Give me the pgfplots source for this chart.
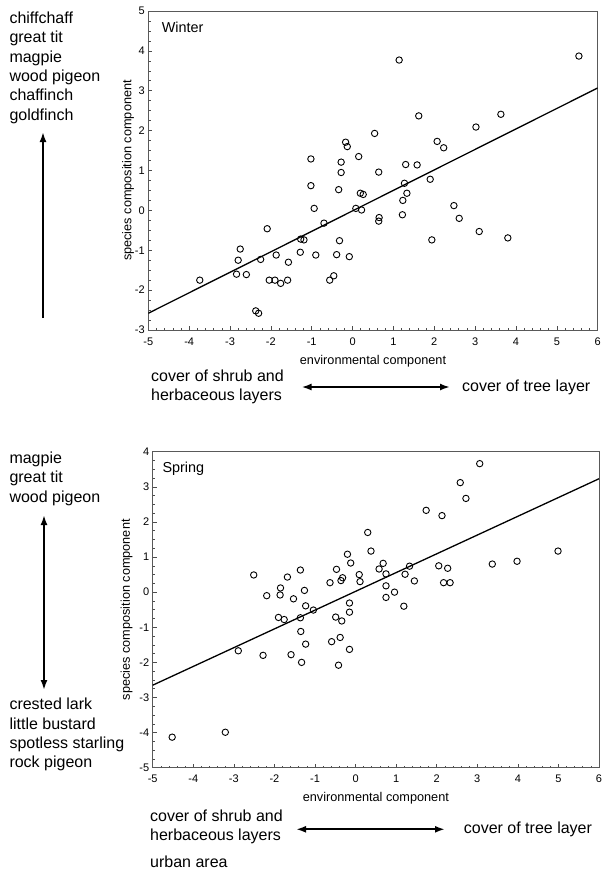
\documentclass[border=0pt]{standalone}
\usepackage{fontspec}
\setmainfont{Liberation Sans}
\usepackage{pgfplots}
\pgfplotsset{compat=1.18}
\usetikzlibrary{arrows.meta}
\pgfplotsset{myax/.style={
  scale only axis, anchor=south west,
  xmin=-5, xmax=6, xtick={-5,-4,...,6},
  minor x tick num=4, minor y tick num=3,
  tick align=inside, xtick pos=bottom, ytick pos=left,
  axis line style={black!65, line width=1pt},
  major tick length=4pt, minor tick length=2.2pt,
  every tick/.style={black!70, line width=0.6pt},
  ticklabel style={font=\fontsize{11}{13}\selectfont},
  xticklabel style={yshift=-4pt},
  /pgf/number format/assume math mode=true,
  xlabel={environmental component},
  ylabel={species composition component},
  label style={font=\fontsize{12.7}{15}\selectfont},
  xlabel style={at={(axis description cs:0.5,0)}, anchor=center, yshift=-31pt},
}}
\newcommand\bigtxt{\fontsize{16}{19}\selectfont}
\tikzset{lt/.style={anchor=west, inner sep=0pt, font=\bigtxt, text height=11.5pt, text depth=3.4pt}}
\begin{document}
\begin{tikzpicture}
\useasboundingbox (0,0) rectangle (609pt,-873pt);
% ---------- Winter ----------
\begin{axis}[myax, at={(148.3pt,-330pt)}, width=449.4pt, height=319pt,
  ymin=-3, ymax=5, ytick={-3,-2,...,5},
  ylabel style={at={(axis description cs:-0.0452,0.5)}, anchor=center, rotate=0}]
\addplot[only marks, mark=o, mark size=3.2pt, mark options={line width=0.9pt, black}] coordinates {
(1.14,3.77)(5.54,3.87)(1.62,2.37)(3.63,2.41)(3.02,2.09)(0.54,1.93)(-0.17,1.71)(-0.13,1.60)
(2.07,1.73)(2.23,1.57)(-1.02,1.29)(-0.28,1.21)(0.15,1.35)(-0.28,0.95)(0.64,0.96)(1.30,1.15)
(1.58,1.14)(-1.02,0.62)(-0.34,0.52)(0.19,0.43)(0.26,0.40)(1.27,0.68)(1.33,0.43)(1.90,0.78)
(1.23,0.25)(-0.94,0.05)(0.08,0.05)(0.22,0.01)(2.48,0.12)(2.61,-0.20)(0.65,-0.18)(0.64,-0.27)
(1.22,-0.11)(-0.70,-0.32)(-2.09,-0.46)(3.10,-0.53)(3.80,-0.69)(1.94,-0.74)(-1.27,-0.72)(-1.19,-0.74)
(-0.32,-0.76)(-2.75,-0.97)(-2.80,-1.25)(-2.25,-1.23)(-1.87,-1.12)(-1.28,-1.05)(-0.90,-1.12)(-0.39,-1.11)
(-0.08,-1.16)(-1.57,-1.30)(-2.84,-1.60)(-2.60,-1.61)(-3.74,-1.75)(-2.04,-1.75)(-1.90,-1.75)(-1.76,-1.83)
(-1.59,-1.75)(-0.46,-1.64)(-0.56,-1.75)(-2.37,-2.52)(-2.30,-2.58)};
\addplot[black, line width=1.3pt] coordinates {(-5,-2.58)(6,3.07)};
\end{axis}
% ---------- Spring ----------
\begin{axis}[myax, at={(152.7pt,-767.7pt)}, width=446.3pt, height=316pt,
  ymin=-5, ymax=4, ytick={-5,-4,...,4},
  ylabel style={at={(axis description cs:-0.0583,0.5)}, anchor=center, rotate=0}]
\addplot[only marks, mark=o, mark size=3.2pt, mark options={line width=0.9pt, black}] coordinates {
(3.06,3.66)(2.58,3.12)(2.72,2.67)(1.74,2.33)(2.13,2.18)(0.30,1.70)(0.38,1.17)(4.99,1.17)
(-0.20,1.08)(-0.12,0.83)(0.68,0.82)(3.37,0.80)(3.98,0.88)(2.05,0.75)(2.27,0.68)(1.33,0.74)
(0.58,0.66)(-0.47,0.65)(-1.36,0.63)(-2.51,0.49)(0.09,0.50)(0.75,0.52)(1.22,0.51)(-1.68,0.43)
(-0.32,0.41)(-0.36,0.33)(0.11,0.30)(-0.63,0.27)(1.45,0.32)(2.17,0.27)(2.33,0.27)(-1.85,0.12)
(0.75,0.18)(-1.26,0.05)(0.96,0.00)(-2.19,-0.10)(-1.86,-0.08)(-1.53,-0.19)(0.75,-0.15)(-1.23,-0.39)
(1.19,-0.40)(-0.15,-0.31)(-1.04,-0.51)(-0.15,-0.57)(-1.90,-0.72)(-1.76,-0.78)(-1.36,-0.73)(-0.49,-0.71)
(-0.34,-0.82)(-1.35,-1.12)(-0.59,-1.41)(-0.38,-1.29)(-1.23,-1.48)(-0.15,-1.63)(-2.89,-1.67)(-2.28,-1.80)
(-1.59,-1.78)(-1.33,-2.00)(-0.42,-2.08)(-4.52,-4.13)(-3.21,-3.99)};
\addplot[black, line width=1.3pt] coordinates {(-5,-2.65)(6,3.23)};
\end{axis}
% ---------- annotations ----------
\node[anchor=west, inner sep=0pt, font=\fontsize{14.4}{17}\selectfont] at (161.7pt,-27.3pt) {Winter};
\node[anchor=west, inner sep=0pt, font=\fontsize{14.4}{17}\selectfont] at (162.3pt,-469pt) {Spring};
\node[lt] at (9.3pt,-19pt) {chiffchaff};
\node[lt] at (9.3pt,-38.5pt) {great tit};
\node[lt] at (9.3pt,-58pt) {magpie};
\node[lt] at (9.3pt,-77.3pt) {wood pigeon};
\node[lt] at (9.3pt,-96.7pt) {chaffinch};
\node[lt] at (9.3pt,-116pt) {goldfinch};
\draw[line width=2pt, -{Latex[length=10pt,width=7pt]}] (43pt,-318pt) -- (43pt,-132pt);
\node[lt] at (151pt,-377pt) {cover of shrub and};
\node[lt] at (151pt,-396pt) {herbaceous layers};
\draw[line width=2pt, {Latex[length=10pt,width=7pt]}-{Latex[length=10pt,width=7pt]}] (301.5pt,-387pt) -- (450pt,-387pt);
\node[lt] at (462pt,-387pt) {cover of tree layer};
\node[lt] at (9.3pt,-459pt) {magpie};
\node[lt] at (9.3pt,-478.7pt) {great tit};
\node[lt] at (9.3pt,-498pt) {wood pigeon};
\draw[line width=2pt, {Latex[length=10pt,width=7pt]}-{Latex[length=10pt,width=7pt]}] (44pt,-690pt) -- (44pt,-515pt);
\node[lt] at (9.3pt,-705.7pt) {crested lark};
\node[lt] at (9.3pt,-725pt) {little bustard};
\node[lt] at (9.3pt,-744.7pt) {spotless starling};
\node[lt] at (9.3pt,-763.5pt) {rock pigeon};
\node[lt] at (150pt,-817.3pt) {cover of shrub and};
\node[lt] at (150pt,-836pt) {herbaceous layers};
\draw[line width=2pt, {Latex[length=10pt,width=7pt]}-{Latex[length=10pt,width=7pt]}] (296pt,-829.3pt) -- (445pt,-829.3pt);
\node[lt] at (463.7pt,-829.3pt) {cover of tree layer};
\node[lt] at (150pt,-863.3pt) {urban area};
\end{tikzpicture}
\end{document}
